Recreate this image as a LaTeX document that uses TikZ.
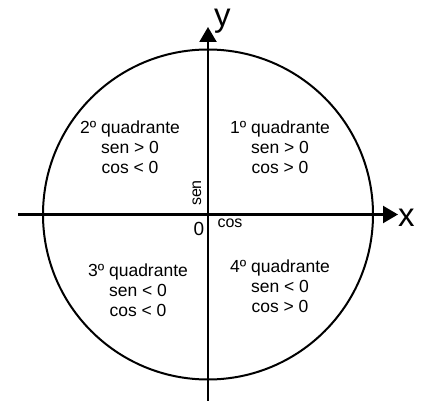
\documentclass[tikz,border=0pt]{standalone}
\usepackage{fontspec}
\setmainfont{Liberation Sans}
\usetikzlibrary{arrows.meta}
\begin{document}
\begin{tikzpicture}[x=1pt,y=-1pt,
  axis/.style={line width=2.2pt,-{Triangle[length=15pt,width=17pt]}},
  quad/.style={align=center,font=\fontsize{17.5}{20}\selectfont,inner sep=0pt},
  small/.style={font=\fontsize{16}{18}\selectfont,inner sep=0pt},
  big/.style={font=\fontsize{33}{36}\selectfont,inner sep=0pt}]
\useasboundingbox (0,0) rectangle (426,401);
\coordinate (o) at (208,214.5);
\coordinate (xl) at (18,214.5);
\coordinate (xr) at (398,214.5);
\coordinate (yb) at (208,402);
\coordinate (yt) at (208,27);
\draw[line width=2pt] (o) circle (165);
\draw[axis] (xl) -- (xr);
\draw[axis] (yb) -- (yt);
\node[big,anchor=base west] (ylab) at (214,27) {y};
\node[big,anchor=base west] (xlab) at (398,226) {x};
\node[quad] (q1) at (280,147) {1º quadrante\\sen > 0\\cos > 0};
\node[quad] (q2) at (130,147) {2º quadrante\\sen > 0\\cos < 0};
\node[quad] (q3) at (138,290) {3º quadrante\\sen < 0\\cos < 0};
\node[quad] (q4) at (280,286) {4º quadrante\\sen < 0\\cos > 0};
\node[small,rotate=90] (sen) at (197,193) {sen};
\node[small,anchor=base] (cos) at (230,228) {cos};
\node[font=\fontsize{19}{21}\selectfont,inner sep=0pt,anchor=base] (zero) at (199,235) {0};
\end{tikzpicture}
\end{document}
